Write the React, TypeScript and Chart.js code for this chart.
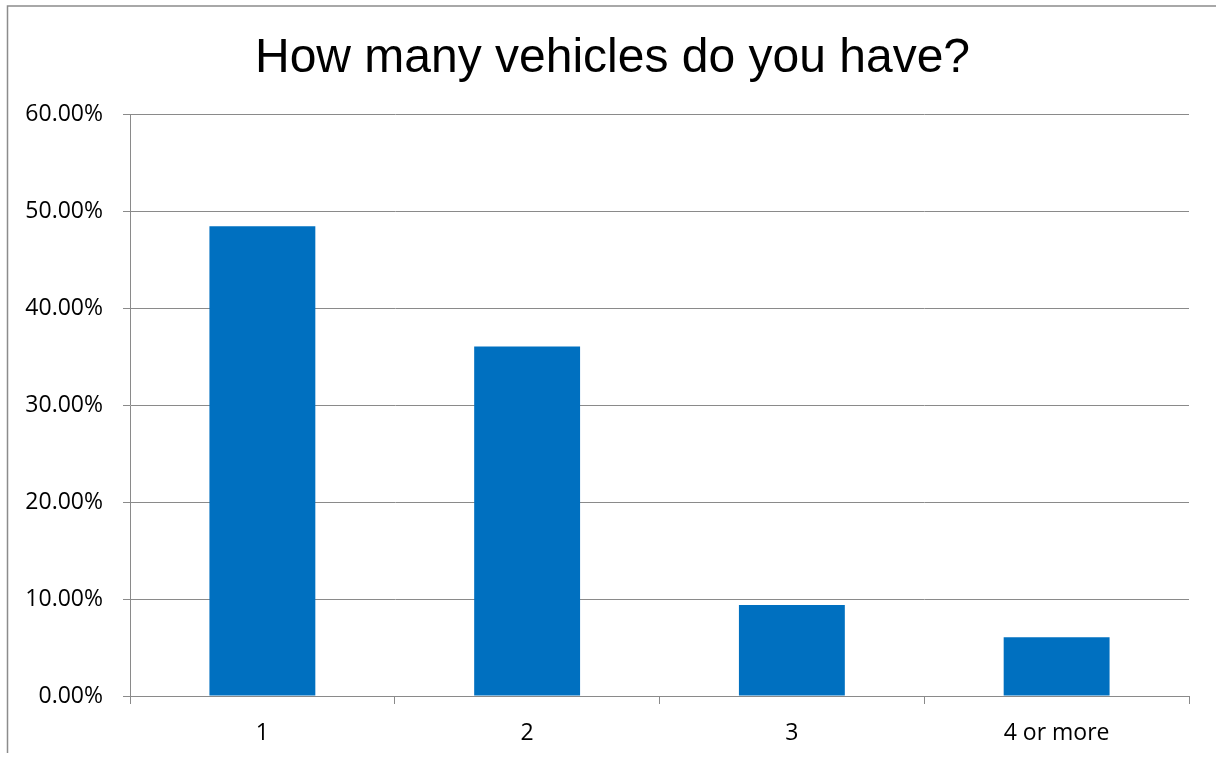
import React, { useEffect, useRef } from "react";
import { Chart, registerables } from "chart.js";

Chart.register(...registerables);

const TITLE = "How many vehicles do you have?";
const categories = ["1", "2", "3", "4 or more"];
const shares = [48.48, 36.06, 9.39, 6.06];
const yTicks = [0, 10, 20, 30, 40, 50, 60];

const GRID = "#8a8a8a";

const framePlugin = {
  id: "frame",
  beforeDraw(chart: any) {
    const ctx = chart.ctx;
    ctx.save();
    ctx.fillStyle = "#ffffff";
    ctx.fillRect(0, 0, chart.width, chart.height);
    ctx.strokeStyle = "#8c8c8c";
    ctx.lineWidth = 1.5;
    ctx.beginPath();
    ctx.moveTo(7.5, 753);
    ctx.lineTo(7.5, 6);
    ctx.lineTo(chart.width, 6);
    ctx.stroke();
    ctx.restore();
  },
};

export default function App() {
  const ref = useRef<HTMLCanvasElement | null>(null);

  useEffect(() => {
    if (!ref.current) return;
    const chart = new Chart(ref.current, {
      type: "bar",
      data: {
        labels: categories,
        datasets: [
          {
            data: shares,
            backgroundColor: "#0070C0",
            borderWidth: 0,
            barPercentage: 0.4,
            categoryPercentage: 1,
            yAxisID: "y",
          },
        ],
      },
      options: {
        animation: false,
        responsive: true,
        maintainAspectRatio: false,
        layout: { padding: { left: 9, right: 0, top: 0, bottom: 0 } },
        plugins: {
          legend: { display: false },
          tooltip: { enabled: false },
          title: {
            display: true,
            text: TITLE,
            color: "#000000",
            font: { family: "'Liberation Sans', Arial, sans-serif", size: 48, weight: "normal", lineHeight: 1.2 },
            padding: { top: 30, bottom: 27 },
          },
        },
        scales: {
          x: {
            grid: {
              display: true,
              drawOnChartArea: false,
              drawTicks: true,
              tickLength: 8,
              color: GRID,
              offset: true,
            },
            border: { display: true, color: GRID, width: 1 },
            ticks: {
              color: "#000000",
              font: { family: "'Open Sans', sans-serif", size: 23 },
              padding: 16,
              maxRotation: 0,
            },
            afterFit(scale: any) {
              scale.height = 62;
            },
          },
          y: {
            position: "left",
            min: 0,
            max: 60,
            afterBuildTicks(scale: any) {
              scale.ticks = yTicks.map((v) => ({ value: v }));
            },
            grid: {
              display: true,
              drawOnChartArea: true,
              drawTicks: true,
              tickLength: 7,
              color: GRID,
            },
            border: { display: true, color: GRID, width: 1 },
            ticks: {
              color: "#000000",
              font: { family: "'Open Sans', sans-serif", size: 23 },
              padding: 20,
              callback: (v: any) => Number(v).toFixed(2) + "%",
            },
            afterFit(scale: any) {
              scale.width = 121;
            },
          },
          yR: {
            type: "linear",
            position: "right",
            display: true,
            min: 0,
            max: 60,
            grid: { display: false, drawTicks: false },
            border: { display: false },
            ticks: { display: false },
            afterFit(scale: any) {
              scale.width = 27;
            },
          },
        },
      },
      plugins: [framePlugin],
    });
    return () => chart.destroy();
  }, []);

  return (
    <div style={{ position: "fixed", left: 0, top: 0, width: 1216, height: 758, background: "#fff" }}>
      <canvas ref={ref} />
    </div>
  );
}
